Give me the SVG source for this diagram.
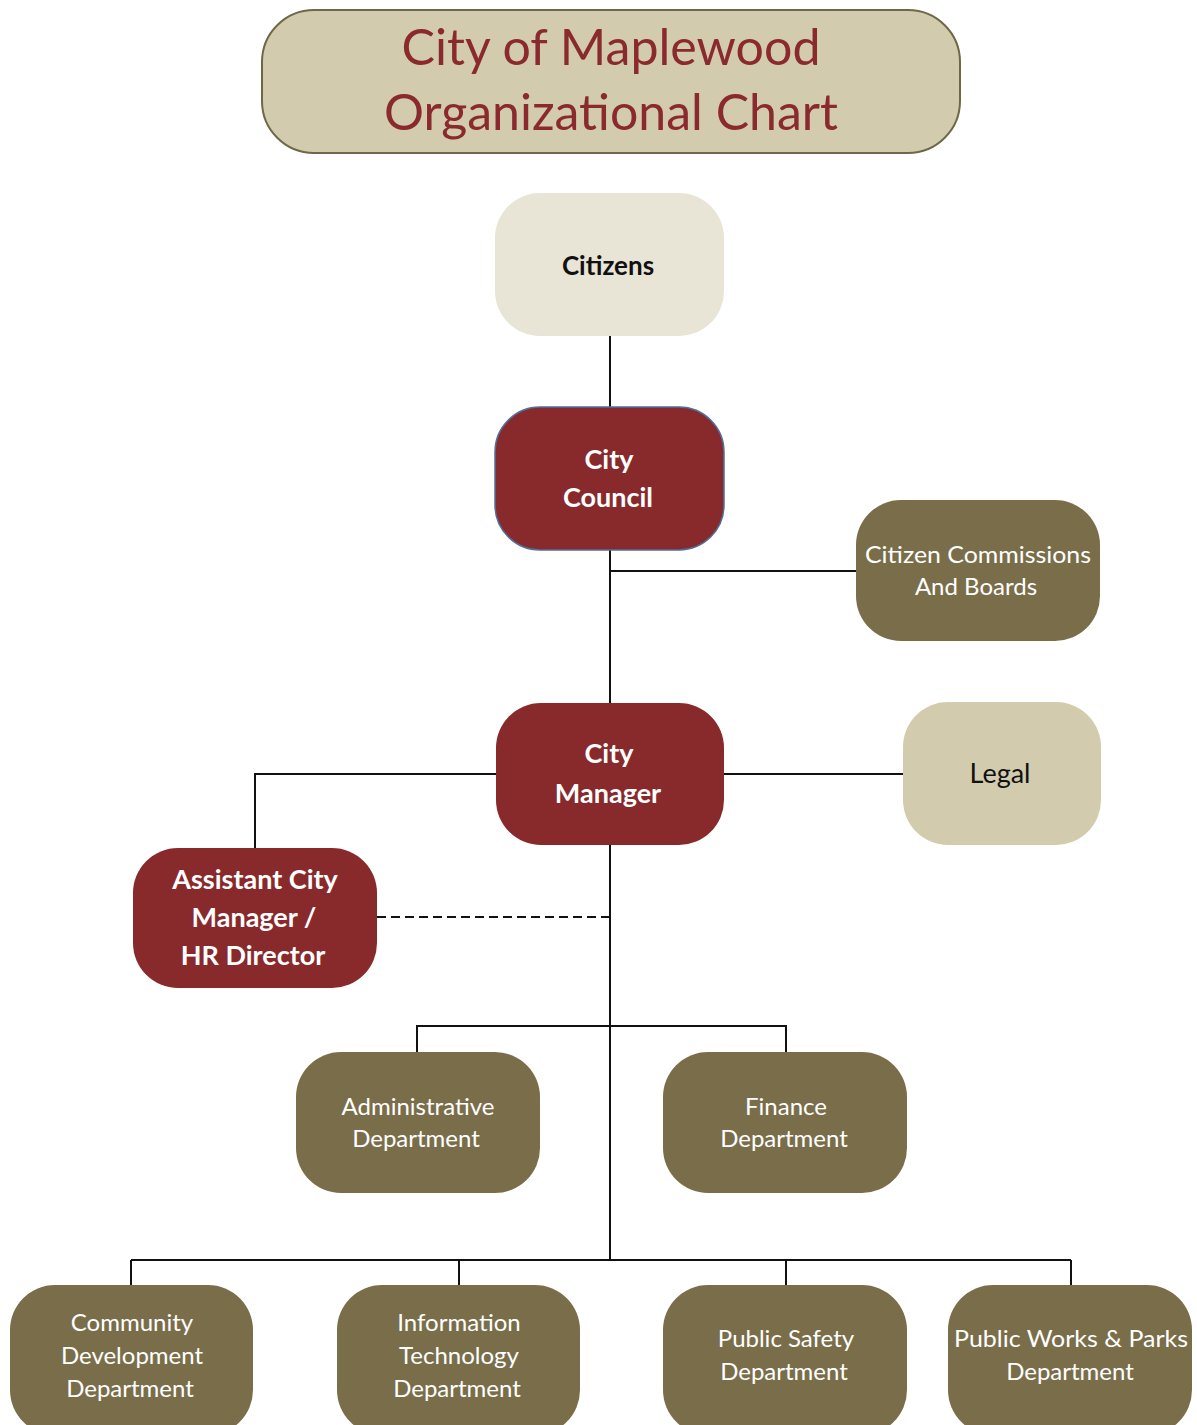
<svg xmlns="http://www.w3.org/2000/svg" width="1197" height="1425" viewBox="0 0 1197 1425">
<style>
text{font-family:Lato,"Open Sans","Liberation Sans",sans-serif;text-anchor:middle}
.red{fill:#88292b}
.olive{fill:#7a6e4a}
.tan{fill:#d3cbae}
.light{fill:#e8e4d6}
.wt{fill:#ffffff;font-size:27px;font-weight:bold}
.ot{fill:#ffffff;font-size:24px}
.bt{fill:#111111;font-size:26px;font-weight:bold}
.nt{fill:#111111;font-size:27px}
.conn{stroke:#111;stroke-width:2;fill:none}
</style>
<rect width="1197" height="1425" fill="#ffffff"/>
<g id="title">
<rect x="262" y="10" width="698" height="143" rx="52" fill="#d3cbad" stroke="#6e6748" stroke-width="2"/>
<text x="611" y="65" font-size="50" fill="#8b2a2e" textLength="419" lengthAdjust="spacingAndGlyphs">City of Maplewood</text>
<text x="611" y="130" font-size="50" fill="#8b2a2e" textLength="454" lengthAdjust="spacingAndGlyphs">Organizational Chart</text>
</g>
<g id="connectors">
<line class="conn" x1="610" y1="336" x2="610" y2="408"/>
<line class="conn" x1="610" y1="550" x2="610" y2="704"/>
<line class="conn" x1="610" y1="571" x2="857" y2="571"/>
<line class="conn" x1="724" y1="774" x2="904" y2="774"/>
<polyline class="conn" points="496,774 255,774 255,849"/>
<line class="conn" x1="377" y1="917" x2="610" y2="917" stroke-dasharray="9,5"/>
<line class="conn" x1="610" y1="845" x2="610" y2="1260"/>
<polyline class="conn" points="417,1053 417,1026 786,1026 786,1053"/>
<line class="conn" x1="131" y1="1260" x2="1071" y2="1260"/>
<line class="conn" x1="131" y1="1260" x2="131" y2="1286"/>
<line class="conn" x1="459" y1="1260" x2="459" y2="1286"/>
<line class="conn" x1="786" y1="1260" x2="786" y2="1286"/>
<line class="conn" x1="1071" y1="1260" x2="1071" y2="1286"/>
</g>
<g id="citizens">
<rect class="light" x="495" y="193" width="229" height="143" rx="45"/>
<text class="bt" x="608" y="275">Citizens</text>
</g>
<g id="city-council">
<rect class="red" x="495" y="407" width="229" height="143" rx="45" stroke="#4f6f9c" stroke-width="1.5"/>
<text class="wt" x="609" y="469">City</text>
<text class="wt" x="608" y="507">Council</text>
</g>
<g id="citizen-commissions">
<rect class="olive" x="856" y="500" width="244" height="141" rx="45"/>
<text class="ot" x="978" y="563" textLength="226" lengthAdjust="spacingAndGlyphs">Citizen Commissions</text>
<text class="ot" x="976" y="595">And Boards</text>
</g>
<g id="city-manager">
<rect class="red" x="496" y="703" width="228" height="142" rx="45"/>
<text class="wt" x="609" y="763">City</text>
<text class="wt" x="608" y="803">Manager</text>
</g>
<g id="legal">
<rect class="tan" x="903" y="702" width="198" height="143" rx="45"/>
<text class="nt" x="1000" y="783">Legal</text>
</g>
<g id="assistant-city-manager">
<rect class="red" x="133" y="848" width="244" height="140" rx="45"/>
<text class="wt" x="255" y="889">Assistant City</text>
<text class="wt" x="254" y="927">Manager /</text>
<text class="wt" x="253" y="965">HR Director</text>
</g>
<g id="administrative">
<rect class="olive" x="296" y="1052" width="244" height="141" rx="45"/>
<text class="ot" x="418" y="1115">Administrative</text>
<text class="ot" x="416" y="1147">Department</text>
</g>
<g id="finance">
<rect class="olive" x="663" y="1052" width="244" height="141" rx="45"/>
<text class="ot" x="786" y="1115">Finance</text>
<text class="ot" x="784" y="1147">Department</text>
</g>
<g id="community-development">
<rect class="olive" x="10" y="1285" width="243" height="150" rx="45"/>
<text class="ot" x="132" y="1331">Community</text>
<text class="ot" x="132" y="1364">Development</text>
<text class="ot" x="130" y="1397">Department</text>
</g>
<g id="information-technology">
<rect class="olive" x="337" y="1285" width="243" height="150" rx="45"/>
<text class="ot" x="459" y="1331">Information</text>
<text class="ot" x="459" y="1364">Technology</text>
<text class="ot" x="457" y="1397">Department</text>
</g>
<g id="public-safety">
<rect class="olive" x="663" y="1285" width="244" height="150" rx="45"/>
<text class="ot" x="786" y="1347">Public Safety</text>
<text class="ot" x="784" y="1380">Department</text>
</g>
<g id="public-works">
<rect class="olive" x="948" y="1285" width="244" height="150" rx="45"/>
<text class="ot" x="1071" y="1347" textLength="234" lengthAdjust="spacingAndGlyphs">Public Works &amp; Parks</text>
<text class="ot" x="1070" y="1380">Department</text>
</g>
</svg>
